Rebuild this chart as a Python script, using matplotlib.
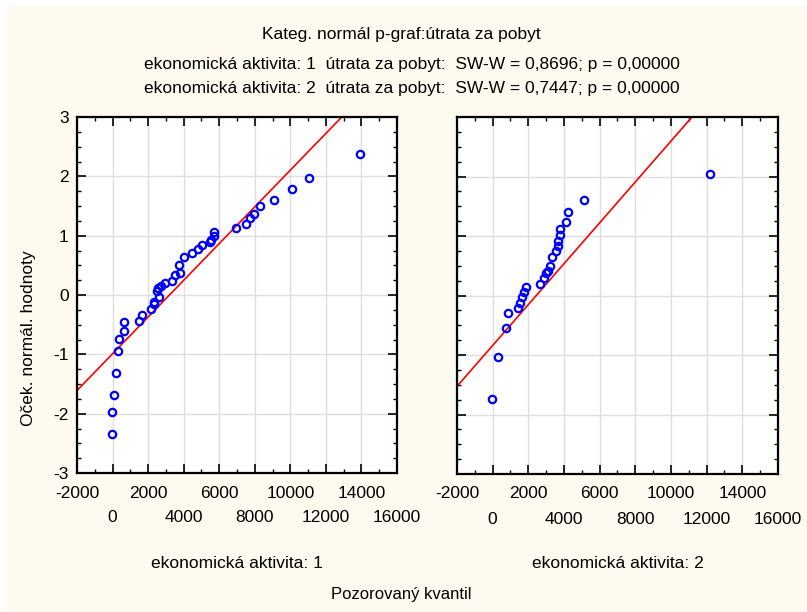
import matplotlib
matplotlib.use("Agg")
import matplotlib.pyplot as plt
from matplotlib.patches import Rectangle
from matplotlib.ticker import MultipleLocator
import numpy as np

plt.rcParams['font.family'] = ['Liberation Sans', 'DejaVu Sans']

# ---- data ----
group1_x = [-50, -50, 56, 187, 280, 375, 656, 656, 1500, 1650, 2156, 2306, 2343, 2587,
            2475, 2568, 2718, 2962, 3337, 3525, 3787, 3712, 3993, 4443, 4818, 5006,
            5475, 5531, 5718, 5681, 6937, 7500, 7725, 7968, 8287, 9056, 10087, 11062, 13912]
group1_y = [-2.35, -1.98, -1.68, -1.31, -0.94, -0.74, -0.60, -0.46, -0.43, -0.33, -0.24,
            -0.16, -0.12, -0.03, 0.07, 0.11, 0.15, 0.20, 0.23, 0.34, 0.37, 0.50, 0.64, 0.70,
            0.78, 0.84, 0.90, 0.93, 1.00, 1.07, 1.13, 1.20, 1.30, 1.37, 1.50, 1.60, 1.78,
            1.97, 2.37]
group2_x = [-37, 317, 746, 876, 1417, 1528, 1659, 1771, 1883, 2647, 2889, 2983, 3113,
            3225, 3355, 3541, 3672, 3690, 3802, 3784, 4101, 4231, 5126, 12171]
group2_y = [-1.74, -1.04, -0.54, -0.30, -0.21, -0.13, -0.03, 0.06, 0.14, 0.20, 0.30, 0.37,
            0.41, 0.50, 0.64, 0.74, 0.84, 0.91, 1.01, 1.11, 1.24, 1.41, 1.61, 2.04]
# reference normal line: y = (x - mean) / sd
line_mean = [3200, 2445]
line_sd = [3231, 2911]

panel_labels = ["ekonomická aktivita: 1", "ekonomická aktivita: 2"]
title = "Kateg. normál p-graf:útrata za pobyt"
stats_lines = ["ekonomická aktivita: 1  útrata za pobyt:  SW-W = 0,8696; p = 0,00000",
               "ekonomická aktivita: 2  útrata za pobyt:  SW-W = 0,7447; p = 0,00000"]
xlabel = "Pozorovaný kvantil"
ylabel = "Oček. normál. hodnoty"
xticks_row1 = [-2000, 2000, 6000, 10000, 14000]
xticks_row2 = [0, 4000, 8000, 12000, 16000]
yticks = [-3, -2, -1, 0, 1, 2, 3]

W, H = 807, 612
fig = plt.figure(figsize=(W / 100, H / 100), dpi=100)
fig.patch.set_facecolor('white')
fig.patches.append(Rectangle((6 / W, 0), 1 - 6 / W, 1 - 6 / H, transform=fig.transFigure,
                             facecolor='#FEFAF0', edgecolor='none', zorder=-10))


def fx(px):
    return px / W


def fy(py):
    return 1 - py / H


axes_px = [(77, 117, 397, 473), (457, 117, 778, 474)]
data = [(group1_x, group1_y), (group2_x, group2_y)]
FS = 12.5

for i, (l, t, r, b) in enumerate(axes_px):
    ax = fig.add_axes([fx(l), fy(b), (r - l) / W, (b - t) / H])
    ax.set_facecolor('white')
    ax.set_xlim(-2000, 16000)
    ax.set_ylim(-3, 3)
    ax.set_xticks(sorted(xticks_row1 + xticks_row2))
    ax.set_yticks(yticks)
    ax.xaxis.set_minor_locator(MultipleLocator(1000))
    ax.yaxis.set_minor_locator(MultipleLocator(0.25))
    ax.grid(True, which='major', color='#dedede', linewidth=1.0, zorder=0)
    ax.set_axisbelow(True)
    for s in ax.spines.values():
        s.set_linewidth(1.6)
        s.set_color('black')
    ax.tick_params(which='both', direction='in', top=True, right=True, color='black')
    ax.tick_params(which='major', length=6.5, width=1.2)
    ax.tick_params(which='minor', length=3, width=1.0)
    ax.tick_params(axis='x', labelsize=FS, pad=9)
    ax.tick_params(axis='y', labelsize=FS, pad=6)
    ax.set_xticklabels([str(v) if v in xticks_row1 else "" for v in sorted(xticks_row1 + xticks_row2)])
    # second (staggered) row of x tick labels
    sec = ax.secondary_xaxis('bottom')
    sec.set_xticks(xticks_row2)
    sec.set_xticklabels([str(v) for v in xticks_row2])
    sec.tick_params(length=0, labelsize=FS, pad=27)
    sec.spines['bottom'].set_visible(False)
    if i == 0:
        ax.set_yticklabels([str(v) for v in yticks])
    else:
        ax.set_yticklabels([])
    xs, ys = data[i]
    xl = np.array([-2000, 16000])
    ax.plot(xl, (xl - line_mean[i]) / line_sd[i], color='#FF0000', linewidth=1.2, zorder=2)
    ax.plot(xs, ys, linestyle='none', marker='o', markersize=5.3, markerfacecolor='none',
            markeredgecolor='#0000FF', markeredgewidth=1.6, zorder=3, clip_on=False)
    fig.text(fx((l + r) / 2), fy(563), panel_labels[i], ha='center', va='center', fontsize=FS)

fig.text(fx(401), fy(35), title, ha='center', va='center', fontsize=FS)
fig.text(fx(412), fy(64), stats_lines[0], ha='center', va='center', fontsize=FS)
fig.text(fx(412), fy(88), stats_lines[1], ha='center', va='center', fontsize=FS)
fig.text(fx(401), fy(594), xlabel, ha='center', va='center', fontsize=12)
fig.text(fx(29), fy(338), ylabel, ha='center', va='center', rotation=90, fontsize=FS)

fig.savefig('out.png', dpi=100, facecolor=fig.get_facecolor())
